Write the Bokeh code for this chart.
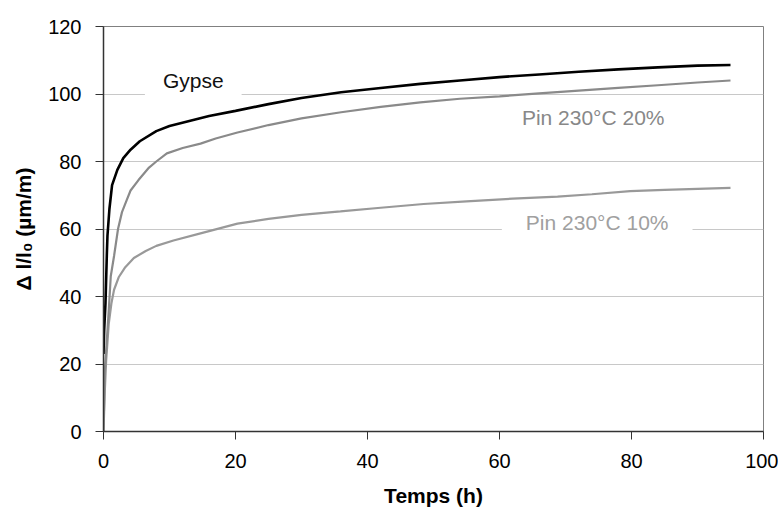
from bokeh.plotting import figure
from bokeh.models import Range1d, FixedTicker, Label
from bokeh.embed import file_html
from bokeh.resources import INLINE

# Data (time in hours, elongation in µm/m)
gypse_t = [0, 0.1, 0.3, 0.5, 0.6, 0.9, 1.3, 2.1, 3, 4.1, 5.5, 8, 10, 13, 16, 20,
           25, 30, 36, 42, 48, 54, 60, 66, 72, 78, 84, 90, 95]
gypse_v = [23, 30, 38, 52, 58, 66, 73, 77.5, 81, 83.5, 86, 89, 90.5, 92, 93.5, 95,
           97, 98.8, 100.5, 101.8, 103, 104, 105, 105.8, 106.6, 107.3, 107.9, 108.4, 108.6]

pin20_t = [0, 0.2, 0.5, 0.8, 1.1, 1.6, 2.2, 2.8, 3.5, 4.1, 5.3, 6.9, 8, 9.6, 12, 14.7,
           17, 20.3, 25, 30, 36, 42, 48, 54, 60, 66, 72, 78, 84, 90, 95]
pin20_v = [0, 18, 27, 36, 46, 52, 60, 65, 68.5, 71.4, 74.5, 78.2, 80, 82.4, 84, 85.3,
           86.8, 88.6, 90.8, 92.8, 94.6, 96.2, 97.5, 98.6, 99.3, 100.2, 101, 101.8, 102.6, 103.4, 104]

pin10_t = [0, 0.2, 0.4, 0.8, 1.2, 1.6, 2.3, 3.3, 4.6, 6.4, 8, 10.6, 14.7, 20.3, 25, 30,
           35.9, 42, 48.5, 55, 62, 68.8, 74, 79.8, 85, 90, 95]
pin10_v = [0, 12, 21, 32, 38, 42, 45.7, 48.7, 51.4, 53.5, 55, 56.6, 58.7, 61.6, 63, 64.2,
           65.2, 66.3, 67.4, 68.2, 69, 69.6, 70.3, 71.2, 71.6, 71.9, 72.2]

x_ticks = [0, 20, 40, 60, 80, 100]
y_ticks = [0, 20, 40, 60, 80, 100, 120]

FONT = "Liberation Sans"

p = figure(frame_width=660, frame_height=405,
           min_border_left=103, min_border_right=15, min_border_top=26, min_border_bottom=80,
           x_range=Range1d(0, 100), y_range=Range1d(0, 120),
           output_backend="svg", toolbar_location=None,
           background_fill_color="white", border_fill_color="white")

p.outline_line_color = "#808080"
p.outline_line_width = 1
p.xgrid.visible = False
p.ygrid.grid_line_color = "#c8c8c8"
p.ygrid.grid_line_width = 1

for ax in (p.xaxis[0], p.yaxis[0]):
    ax.axis_line_color = "#333333"
    ax.axis_line_width = 1.5
    ax.major_tick_line_color = "#333333"
    ax.major_tick_in = 0
    ax.major_tick_out = 8
    ax.minor_tick_line_color = None
    ax.major_label_text_font = FONT
    ax.major_label_text_font_size = "20px"
    ax.major_label_text_color = "black"
    ax.axis_label_text_font = FONT
    ax.axis_label_text_font_size = "21px"
    ax.axis_label_text_font_style = "bold"
    ax.axis_label_text_color = "black"

p.xaxis.ticker = FixedTicker(ticks=x_ticks)
p.yaxis.ticker = FixedTicker(ticks=y_ticks)
p.xaxis.major_label_standoff = 14
p.yaxis.major_label_standoff = 14
p.xaxis.axis_label = "Temps (h)"
p.yaxis.axis_label = "Δ l/l₀ (µm/m)"
p.xaxis.axis_label_standoff = 13
p.yaxis.axis_label_standoff = 10

p.line(pin10_t, pin10_v, line_color="#999999", line_width=2.2)
p.line(pin20_t, pin20_v, line_color="#8a8a8a", line_width=2.2)
p.line(gypse_t, gypse_v, line_color="black", line_width=2.6)

p.add_layout(Label(x=13.6, y=104, text="Gypse", text_align="center", text_baseline="middle",
                   text_font=FONT, text_font_size="21px", text_color="#111111",
                   background_fill_color="white", padding=(18, 4)))
p.add_layout(Label(x=74.2, y=93, text="Pin 230°C 20%", text_align="center", text_baseline="middle",
                   text_font=FONT, text_font_size="21px", text_color="#888888"))
p.add_layout(Label(x=74.8, y=62, text="Pin 230°C 10%", text_align="center", text_baseline="middle",
                   text_font=FONT, text_font_size="21px", text_color="#a0a0a0",
                   background_fill_color="white", padding=(24, 4)))

open("out.html", "w").write(file_html(p, INLINE))
